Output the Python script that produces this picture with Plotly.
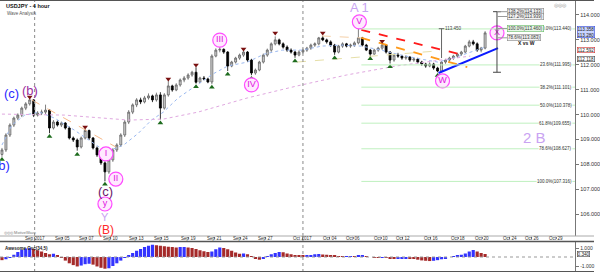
import plotly.graph_objects as go

# ---------------- data ----------------
opens = [108.40,108.58,109.18,109.58,109.86,109.98,110.26,110.43,110.59,109.98,
         110.06,110.10,110.18,109.46,109.70,109.58,109.66,109.46,109.06,108.98,
         108.70,109.06,109.36,109.06,108.66,108.38,108.06,107.70,108.18,108.58,
         108.78,109.18,109.70,110.10,110.39,110.59,110.51,110.67,110.75,110.59,
         110.79,110.26,110.79,111.15,110.99,111.19,111.39,111.47,111.59,111.70,
         111.30,111.47,111.43,111.31,112.35,112.59,112.62,112.51,111.95,112.11,
         112.27,112.39,112.51,112.19,111.67,111.79,112.11,112.39,112.59,112.84,
         113.00,112.84,112.71,112.59,112.51,112.39,112.51,112.59,112.67,112.79,
         112.84,113.08,113.00,112.92,112.79,112.51,112.75,112.84,112.75,112.79,
         112.88,113.08,112.79,112.59,112.43,112.59,112.67,112.79,112.51,112.19,
         112.39,112.35,112.27,112.31,112.19,112.23,112.11,112.03,111.95,112.03,
         111.87,111.75,112.11,112.19,112.27,112.35,112.43,112.51,112.75,112.92,
         112.84,112.59,112.67]
highs = [108.66,109.25,109.65,109.92,110.05,110.32,110.50,110.66,110.62,110.14,
         110.20,110.40,110.22,109.78,109.76,109.72,109.70,109.52,109.12,109.04,
         109.12,109.42,109.40,109.10,108.72,108.45,108.12,108.25,108.65,108.85,
         109.25,109.78,110.18,110.45,110.66,110.68,110.75,110.85,110.80,110.88,
         110.90,110.86,111.36,111.20,111.26,111.45,111.55,111.66,111.76,111.90,
         111.52,111.55,111.48,112.42,112.66,112.74,112.66,112.55,112.16,112.32,
         112.45,112.55,112.55,112.24,111.85,112.16,112.45,112.65,112.90,113.14,
         113.05,112.90,112.78,112.66,112.56,112.58,112.65,112.72,112.85,112.90,
         113.12,113.16,113.05,112.98,112.84,112.80,112.90,112.88,112.85,112.94,
         113.44,113.12,112.84,112.64,112.64,112.72,112.86,112.82,112.55,112.45,
         112.48,112.40,112.38,112.35,112.30,112.28,112.16,112.08,112.10,112.08,
         111.92,112.15,112.24,112.32,112.40,112.48,112.56,112.80,113.00,113.00,
         112.90,112.72,113.35]
lows = [108.30,108.50,109.10,109.50,109.78,109.90,110.18,110.36,109.90,109.92,
        109.98,110.02,109.25,109.40,109.52,109.50,109.40,109.00,108.90,108.55,
        108.64,109.00,108.98,108.60,108.30,107.98,107.32,107.62,108.10,108.50,
        108.70,109.10,109.62,110.02,110.30,110.42,110.45,110.60,110.50,110.52,
        109.80,110.20,110.72,110.92,110.94,111.12,111.30,111.40,111.52,111.24,
        111.26,111.38,111.26,111.22,112.30,112.50,112.44,111.75,111.90,112.05,
        112.20,112.32,112.12,111.58,111.60,111.74,112.05,112.32,112.52,112.78,
        112.78,112.65,112.52,112.45,112.28,112.34,112.45,112.52,112.60,112.72,
        112.78,112.95,112.85,112.72,112.40,112.46,112.68,112.70,112.68,112.72,
        112.82,112.74,112.55,112.36,112.40,112.52,112.60,112.45,112.05,112.12,
        112.28,112.20,112.20,112.12,112.12,112.05,111.96,111.88,111.90,111.80,
        111.70,111.72,112.04,112.12,112.20,112.28,112.36,112.46,112.70,112.78,
        112.52,112.50,112.62]
closes = [108.58,109.18,109.58,109.86,109.98,110.26,110.43,110.59,109.98,110.06,
          110.10,110.18,109.46,109.70,109.58,109.66,109.46,109.06,108.98,108.70,
          109.06,109.36,109.06,108.66,108.38,108.06,107.70,108.18,108.58,108.78,
          109.18,109.70,110.10,110.39,110.59,110.51,110.67,110.75,110.59,110.79,
          110.26,110.79,111.15,110.99,111.19,111.39,111.47,111.59,111.70,111.30,
          111.47,111.43,111.31,112.35,112.59,112.62,112.51,111.95,112.11,112.27,
          112.39,112.51,112.19,111.67,111.79,112.11,112.39,112.59,112.84,113.00,
          112.84,112.71,112.59,112.51,112.39,112.51,112.59,112.67,112.79,112.84,
          113.08,113.00,112.92,112.79,112.51,112.75,112.84,112.75,112.79,112.88,
          113.08,112.79,112.59,112.43,112.59,112.67,112.79,112.51,112.19,112.39,
          112.35,112.27,112.31,112.19,112.23,112.11,112.03,111.95,112.03,111.87,
          111.75,112.11,112.19,112.27,112.35,112.43,112.51,112.75,112.92,112.84,
          112.59,112.67,113.28]
bar_index = list(range(len(closes)))

ao_values = [-0.35,-0.25,-0.05,0.25,0.55,0.8,0.95,1.0,0.9,0.75,
             0.6,0.45,0.3,0.35,0.2,-0.1,-0.4,-0.7,-0.9,-1.05,
             -0.95,-0.8,-0.75,-0.85,-1.05,-1.2,-1.3,-1.25,-1.0,-0.7,
             -0.4,-0.1,0.2,0.45,0.7,0.9,1.1,1.25,1.35,1.3,
             1.25,1.2,1.15,1.1,1.05,1.1,1.12,1.05,1.0,0.9,
             0.75,0.65,0.55,0.6,0.85,1.05,1.0,0.85,0.7,0.5,
             0.35,0.38,0.3,0.1,-0.15,-0.3,-0.2,0.05,0.3,0.45,
             0.55,0.52,0.4,0.3,0.2,0.15,0.12,0.15,0.22,0.3,
             0.32,0.28,0.25,0.22,0.15,0.05,0.02,0.05,0.06,0.05,
             0.12,0.15,0.1,0.0,-0.05,-0.06,-0.04,-0.1,-0.18,-0.22,
             -0.2,-0.15,-0.12,-0.15,-0.22,-0.3,-0.38,-0.42,-0.45,-0.42,
             -0.35,-0.25,-0.12,0.0,0.1,0.18,0.25,0.4,0.6,0.78,
             0.6,0.45,0.34]

date_labels = ["Sep 2017","Sep 05","Sep 07","Sep 10","Sep 13","Sep 15","Sep 19",
               "Sep 21","Sep 24","Sep 27","Oct 2017","Oct 04","Oct 06","Oct 10",
               "Oct 12","Oct 16","Oct 18","Oct 20","Oct 24","Oct 26","Oct 29"]
date_index = [8.25,15.25,21.25,27.5,34,40.25,47,53.75,60.25,66.5,76,82.75,88.75,
              95.75,101.25,108.25,115.25,121.25,128.25,133.75,140]
month_index = [8.25, 76]

price_ticks = [106,107,108,109,110,111,112,113,114]

# fractals
frac_hi_idx = [7,21,42,49,55,61,69,81,96]
frac_hi_val = [110.71,109.50,111.43,111.99,112.80,112.63,113.28,113.28,112.95]
frac_lo_idx = [0,12,19,26,40,49,53,57,63,74,84,93,98,110]
frac_lo_val = [108.20,109.12,108.40,107.20,109.66,111.12,111.10,111.62,111.45,112.15,112.27,112.24,111.92,111.57]

# moving averages
ma_fast_idx = [0,2.5,5.75,9.5,13.25,18.25,24.5,27.5,30.75,34.5,37.75,40.75,44.5,49.5,53.25,57,62,
               66.25,70.75,75.75,80.75,85.75,90.75,95.75,100.75,105.75,110,114,117.5,122]
ma_fast_val = [108.78,109.58,109.98,110.10,109.86,109.38,108.70,108.58,108.78,109.26,109.78,110.10,
               110.67,111.23,111.63,111.95,112.11,112.43,112.59,112.59,112.75,112.79,112.75,112.59,
               112.39,112.23,112.11,112.27,112.47,112.71]
ma_slow_idx = [0,15.75,32,40.75,49.5,62,74.5,87,99.5,110.75,118.25]
ma_slow_val = [110.02,109.98,109.78,109.82,110.10,110.67,111.15,111.59,111.95,112.19,112.35]

# trend lines
red_line_idx = [90.75,116.5]
red_line_val = [113.40,112.39]
orange_line_idx = [90.75,117.5]
orange_line_val = [113.08,111.91]
blue_line_idx = [110.25,125.25]
blue_line_val = [111.67,112.67]
early_line_idx = [7.5,28.75]
early_line_val = [110.59,108.70]
pale_line_idx = [74.5,109.5]
pale_line_val = [112.11,112.55]
pale_top_idx = [80.75,90.75]
pale_top_val = [113.16,113.08]

# Fibonacci retracement
fib_pct = ["0.0%","23.6%","38.2%","50.0%","61.8%","78.6%","100.0%"]
fib_price = [113.440,111.995,111.101,110.378,109.655,108.627,107.316]
# X vs W extension
ext_pct = ["138.2%","127.2%","100.0%","78.6%"]
ext_price = [114.133,113.939,113.460,113.083]
ext_base = 111.70

# wave labels
circ_text = ["I","II","III","IV","V","W","X","y"]
circ_idx = [26.25,28.75,55,63,90.25,111.25,125,26]
circ_val = [108.42,107.41,112.99,111.19,113.72,111.35,113.28,106.41]

plain_text = ["(c)","(b)","(b)","(c)","Y","(B)","A 1","2 B"]
plain_idx = [2.5,7,-0.1,26.25,26,26.25,90.25,134.5]
plain_val = [110.83,110.95,107.94,106.93,105.89,105.37,114.32,109.06]
plain_color = ["#2a2aff","#9b2fa0","#2a2aff","#6a1a6a","#c9a3f2","#ff2a2a","#c9a3f2","#c9a3f2"]
plain_size = [13,13,13,13,11,12,13,15]

# right-axis value boxes
box_text = ["113.358<br>113.280", "112.592", "112.118"]
box_val = [113.31, 112.59, 112.22]
box_fill = ["#c8d4ff", "#ffffff", "#ffffff"]
box_line = ["#3a4ad8", "#d03030", "#444444"]

# ---------------- figure ----------------
H = 272.0
def py(p):
    return 1 - p / H

XR = [-0.5, 144.75]
XD = [0, 581/600]
FONT = "Liberation Sans, Arial"

fig = go.Figure()

fig.add_trace(go.Candlestick(
    x=bar_index, open=opens, high=highs, low=lows, close=closes,
    increasing=dict(line=dict(color="#606060", width=0.8), fillcolor="#d4d4d4"),
    decreasing=dict(line=dict(color="#000000", width=0.8), fillcolor="#000000"),
    whiskerwidth=0, hoverinfo="skip", xaxis="x", yaxis="y"))

def line_trace(xs, ys, color, width, dash="solid", axis="y"):
    fig.add_trace(go.Scatter(x=xs, y=ys, mode="lines",
                             line=dict(color=color, width=width, dash=dash),
                             hoverinfo="skip", xaxis="x", yaxis=axis))

line_trace(ma_fast_idx, ma_fast_val, "#9ab8f0", 1, "dot")
line_trace(ma_slow_idx, ma_slow_val, "#e0a8e0", 1, "dot")
line_trace(early_line_idx, early_line_val, "#f7b98a", 1, "dash")
line_trace(pale_line_idx, pale_line_val, "#e6dfa8", 1, "dash")
line_trace(pale_top_idx, pale_top_val, "#f5d0a8", 1, "dash")
line_trace(red_line_idx, red_line_val, "#ff1a1a", 1.8, "dash")
line_trace(orange_line_idx, orange_line_val, "#ff9a1a", 1.8, "dash")
line_trace(blue_line_idx, blue_line_val, "#0a1aff", 2)

fig.add_trace(go.Scatter(x=frac_hi_idx, y=frac_hi_val, mode="markers",
                         marker=dict(symbol="triangle-down", size=5, color="#7a1010"),
                         hoverinfo="skip", xaxis="x", yaxis="y"))
fig.add_trace(go.Scatter(x=frac_lo_idx, y=frac_lo_val, mode="markers",
                         marker=dict(symbol="triangle-up", size=5, color="#1d6b1d"),
                         hoverinfo="skip", xaxis="x", yaxis="y"))

fig.add_trace(go.Scatter(x=circ_idx, y=circ_val, mode="markers+text", text=circ_text,
                         textposition="middle center",
                         textfont=dict(family=FONT, size=9, color="#e010e0"),
                         marker=dict(size=14, color="#ffe9ff", line=dict(color="#ff4cff", width=1.2)),
                         hoverinfo="skip", xaxis="x", yaxis="y"))

# Awesome oscillator
ao_colors = ["#a52a2a"]
for i in range(1, len(ao_values)):
    ao_colors.append("#3333ff" if ao_values[i] > ao_values[i-1] else "#a52a2a")
fig.add_trace(go.Bar(x=bar_index, y=ao_values, marker=dict(color=ao_colors, line=dict(width=0)),
                     hoverinfo="skip", xaxis="x2", yaxis="y2"))

shapes = []
for p in fib_price:
    shapes.append(dict(type="line", xref="x", yref="y", x0=90.75, x1=144.75, y0=p, y1=p,
                       line=dict(color="#bff0bf", width=1)))
shapes.append(dict(type="line", xref="x2", yref="y2", x0=XR[0], x1=XR[1], y0=0, y1=0,
                   line=dict(color="#999999", width=1, dash="dot")))
shapes.append(dict(type="line", xref="x", yref="y", x0=125, x1=125, y0=ext_base, y1=ext_price[0],
                   line=dict(color="#444444", width=1)))
for p in [ext_base, ext_price[0]]:
    shapes.append(dict(type="line", xref="x", yref="y", x0=124, x1=126, y0=p, y1=p,
                       line=dict(color="#444444", width=1)))
for p in ext_price:
    shapes.append(dict(type="line", xref="x", yref="y", x0=125, x1=127.6, y0=p, y1=p,
                       line=dict(color="#999999", width=1)))
shapes.append(dict(type="line", xref="x", yref="y", x0=111, x1=111, y0=112.27, y1=113.45,
                   line=dict(color="#666666", width=1)))
shapes.append(dict(type="line", xref="x", yref="y", x0=110.3, x1=111.7, y0=113.45, y1=113.45,
                   line=dict(color="#666666", width=1)))
for m in month_index:
    shapes.append(dict(type="line", xref="x", yref="paper", x0=m, x1=m, y0=0, y1=1,
                       line=dict(color="#8a8a8a", width=1, dash="dot")))
shapes.append(dict(type="line", xref="paper", yref="paper", x0=0, x1=1, y0=py(0.5), y1=py(0.5),
                   line=dict(color="#555555", width=1)))
shapes.append(dict(type="line", xref="paper", yref="paper", x0=0, x1=1, y0=py(236), y1=py(236),
                   line=dict(color="#aaaaaa", width=1)))
shapes.append(dict(type="line", xref="paper", yref="paper", x0=0, x1=1, y0=py(241.5), y1=py(241.5),
                   line=dict(color="#555555", width=1.5)))
shapes.append(dict(type="line", xref="paper", yref="paper", x0=0, x1=1, y0=py(271.5), y1=py(271.5),
                   line=dict(color="#555555", width=1)))

ann = []
for t, x, y, c, s in zip(plain_text, plain_idx, plain_val, plain_color, plain_size):
    ann.append(dict(x=x, y=y, xref="x", yref="y", text=t, showarrow=False,
                    font=dict(family=FONT, size=s, color=c)))
for t, x in zip(date_labels, date_index):
    ann.append(dict(x=x, y=py(238.8), xref="x", yref="paper", text=t, showarrow=False,
                    yanchor="middle", font=dict(family=FONT, size=4.6, color="#333")))
for pct, p in zip(fib_pct, fib_price):
    ann.append(dict(x=144.3, y=p, xref="x", yref="y", text=f"{pct}({p:.3f})", showarrow=False,
                    xanchor="right", yanchor="middle", font=dict(family=FONT, size=4.5, color="#333333"),
                    bgcolor="rgba(255,255,255,0.8)", borderpad=0))
for pct, p in zip(ext_pct, ext_price):
    green = pct == "100.0%"
    ann.append(dict(x=127.6, y=p, xref="x", yref="y", text=f"{pct}({p:.3f})", showarrow=False,
                    xanchor="left", yanchor="middle", font=dict(family=FONT, size=4.5, color="#333333"),
                    bgcolor="#e8f8e8" if green else "#f2f2f2",
                    bordercolor="#66bb66" if green else "#888888", borderwidth=0.6, borderpad=0.5))
ann.append(dict(x=111.4, y=113.45, xref="x", yref="y", text="113.450", showarrow=False,
                xanchor="left", font=dict(family=FONT, size=4.5, color="#444444")))
ann.append(dict(x=132.5, y=112.875, xref="x", yref="y", text="<b>X vs W</b>", showarrow=False,
                font=dict(family=FONT, size=5, color="#111111")))
ann.append(dict(x=4/600, y=py(1.5), xref="paper", yref="paper", text="<b>USDJPY - 4 hour</b>",
                showarrow=False, xanchor="left", yanchor="top", font=dict(family=FONT, size=5.5, color="#111")))
ann.append(dict(x=5/600, y=py(9), xref="paper", yref="paper", text="Wave Analysis",
                showarrow=False, xanchor="left", yanchor="top", font=dict(family=FONT, size=4.5, color="#555")))
ann.append(dict(x=2/600, y=py(232), xref="paper", yref="paper", text="◎◎◎ MotiveWave",
                showarrow=False, xanchor="left", yanchor="middle", font=dict(family=FONT, size=4, color="#777")))
ann.append(dict(x=575/600, y=py(5), xref="paper", yref="paper", text="◎◎◎",
                showarrow=False, xanchor="right", yanchor="middle", font=dict(family=FONT, size=5, color="#999")))
ann.append(dict(x=3/600, y=py(248), xref="paper", yref="paper", text="<b>Awesome Osc(34,5)</b>",
                showarrow=False, xanchor="left", yanchor="middle", font=dict(family=FONT, size=4.5, color="#222")))
for t, v, f, l in zip(box_text, box_val, box_fill, box_line):
    ann.append(dict(x=583/600, y=v, xref="paper", yref="y", text=t, showarrow=False, xanchor="left",
                    yanchor="middle", font=dict(family=FONT, size=4.6, color="#222"),
                    bgcolor=f, bordercolor=l, borderwidth=0.6, borderpad=0))
ann.append(dict(x=583/600, y=0.34, xref="paper", yref="y2", text="0.340", showarrow=False, xanchor="left",
                yanchor="middle", font=dict(family=FONT, size=4.6, color="#222"),
                bgcolor="#ffffff", bordercolor="#444", borderwidth=0.6, borderpad=0))

fig.update_layout(
    width=600, height=272, margin=dict(l=0, r=0, t=0, b=0),
    paper_bgcolor="white", plot_bgcolor="white", showlegend=False,
    bargap=0.2, shapes=shapes, annotations=ann,
    font=dict(family=FONT),
    xaxis=dict(domain=XD, range=XR, anchor="y", tickvals=date_index, showticklabels=False,
               ticks="outside", ticklen=2, tickcolor="#888",
               showgrid=False, zeroline=False, showline=False, rangeslider=dict(visible=False)),
    yaxis=dict(domain=[1 - 236/H, 1], range=[105.124, 114.602], side="right", anchor="x",
               tickvals=price_ticks, ticktext=[f"{v:.3f}" for v in price_ticks],
               tickfont=dict(size=5.5, color="#333"), ticks="outside", ticklen=3, tickcolor="#777",
               showgrid=False, zeroline=False, showline=True, linecolor="#777", linewidth=1),
    xaxis2=dict(domain=XD, range=XR, anchor="y2", showticklabels=False, showgrid=False,
                zeroline=False, ticks=""),
    yaxis2=dict(domain=[1/H, 30/H], range=[-1.556, 1.667], side="right", anchor="x2",
                tickvals=[1, -1], ticktext=["1.000", "-1.000"], tickfont=dict(size=5, color="#333"),
                ticks="outside", ticklen=3, tickcolor="#777", showgrid=False, zeroline=False,
                showline=True, linecolor="#777", linewidth=1),
)

fig.write_html("out.html")
